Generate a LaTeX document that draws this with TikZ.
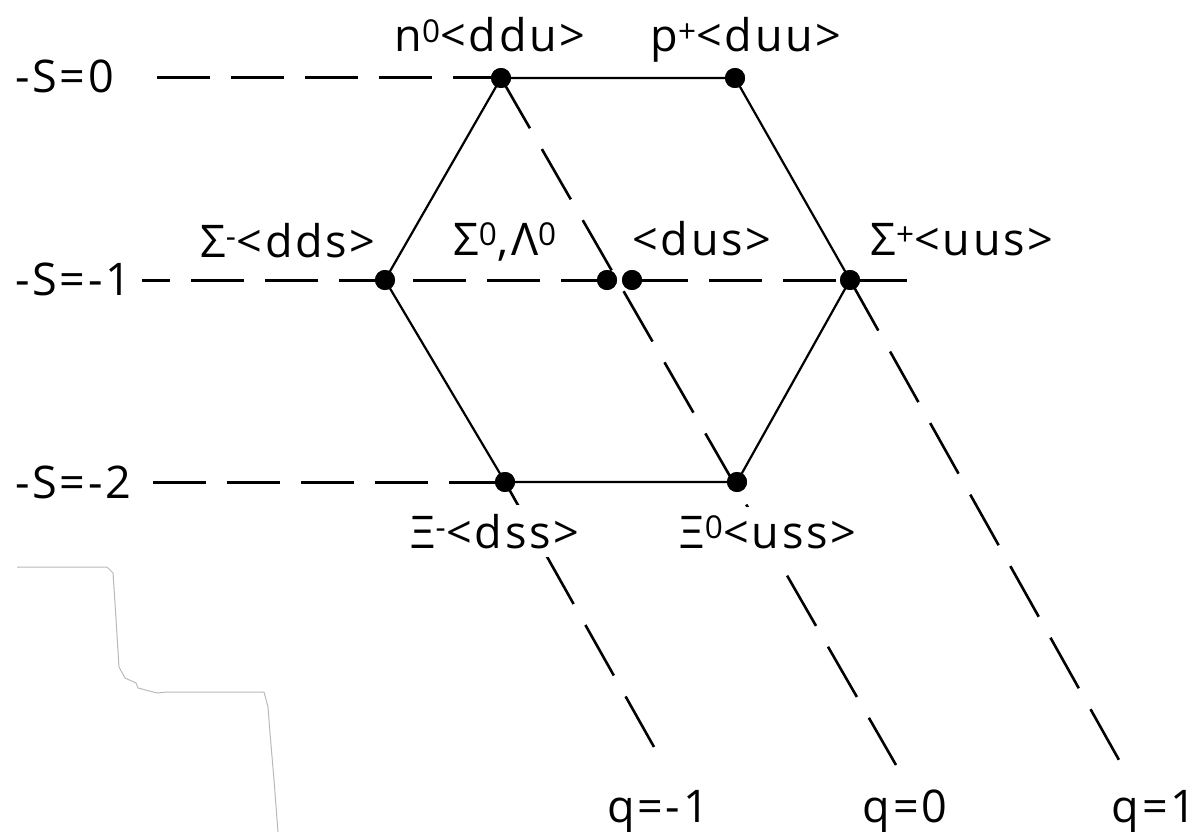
\documentclass[tikz,border=0pt]{standalone}
\usepackage{fontspec}
\setmainfont{Open Sans}[LetterSpace=6]
\begin{document}
\begin{tikzpicture}[x=1pt,y=-1pt,
  dot/.style={circle,fill=black,inner sep=0pt,minimum size=20pt},
  lbl/.style={font=\fontsize{45}{50}\selectfont,inner sep=0pt,anchor=base},
  lblw/.style={lbl,fill=white,inner xsep=3pt,inner ysep=9pt},
  hexline/.style={line width=2.2pt},
  sline/.style={line width=3pt,dash pattern=on 53pt off 21pt},
  qline/.style={line width=2.6pt,dash pattern=on 58pt off 24pt},
  scrap/.style={gray!55,line width=1pt}]
\useasboundingbox (0,0) rectangle (1197,832);

% particle positions
\node[dot] (n0) at (501,78) {};
\node[dot] (pp) at (735,78) {};
\node[dot] (sm) at (385,280) {};
\node[dot] (s0) at (607,280) {};
\node[dot] (l0) at (632,280) {};
\node[dot] (sp) at (850,280) {};
\node[dot] (xm) at (505,482) {};
\node[dot] (x0) at (737,482) {};

% free ends of the dashed lines
\coordinate (s0start) at (157,78);
\coordinate (s1start) at (142,280);
\coordinate (s1end) at (907,280);
\coordinate (s2start) at (153,482);
\coordinate (qm1end) at (663,763);
\coordinate (q0end) at (896,765);
\coordinate (q1end) at (1119,760);

% strangeness lines
\draw[sline] (s0start) -- (n0.center);
\draw[sline,dash phase=25pt] (s1start) -- (s1end);
\draw[sline] (s2start) -- (xm.center);

% charge lines
\draw[qline] (xm.center) -- (qm1end);
\draw[qline] (n0.center) -- (q0end);
\draw[qline] (sp.center) -- (q1end);

% hexagon
\draw[hexline] (n0.center) -- (pp.center) -- (sp.center) -- (x0.center)
  -- (xm.center) -- (sm.center) -- cycle;

\foreach \d in {n0,pp,sm,s0,l0,sp,xm,x0} \node[dot] at (\d) {};

% labels
\node[lbl] (ln0) at (490,52) {n\textsuperscript{0}<ddu>};
\node[lbl] (lpp) at (746,52) {p\textsuperscript{+}<duu>};
\node[lbl] (lsm) at (288,257) {Σ\textsuperscript{-}<dds>};
\node[lbl] (ls0) at (505,255) {Σ\textsuperscript{0},Λ\textsuperscript{0}};
\node[lbl] (ldus) at (702,255) {<dus>};
\node[lbl] (lsp) at (962,255) {Σ\textsuperscript{+}<uus>};
\node[lblw] (lxm) at (495,548) {Ξ\textsuperscript{-}<dss>};
\node[lblw] (lx0) at (768,548) {Ξ\textsuperscript{0}<uss>};

\node[lbl,anchor=base west] (S0) at (15,93) {-S=0};
\node[lbl,anchor=base west] (S1) at (15,295) {-S=-1};
\node[lbl,anchor=base west] (S2) at (15,498) {-S=-2};

\node[lbl] (qm1) at (658,822) {q=-1};
\node[lbl] (q0) at (905,822) {q=0};
\node[lbl] (q1) at (1154,822) {q=1};

% scanning remnant at the lower left
\draw[scrap] (17,567) -- (107,567) -- (113,573) -- (115,603) -- (119,667)
  -- (125,678) -- (136,683) -- (138,688) -- (157,693) -- (167,692)
  -- (264,692) -- (268,707) -- (270,733) -- (274,780) -- (278,832);
\end{tikzpicture}
\end{document}
